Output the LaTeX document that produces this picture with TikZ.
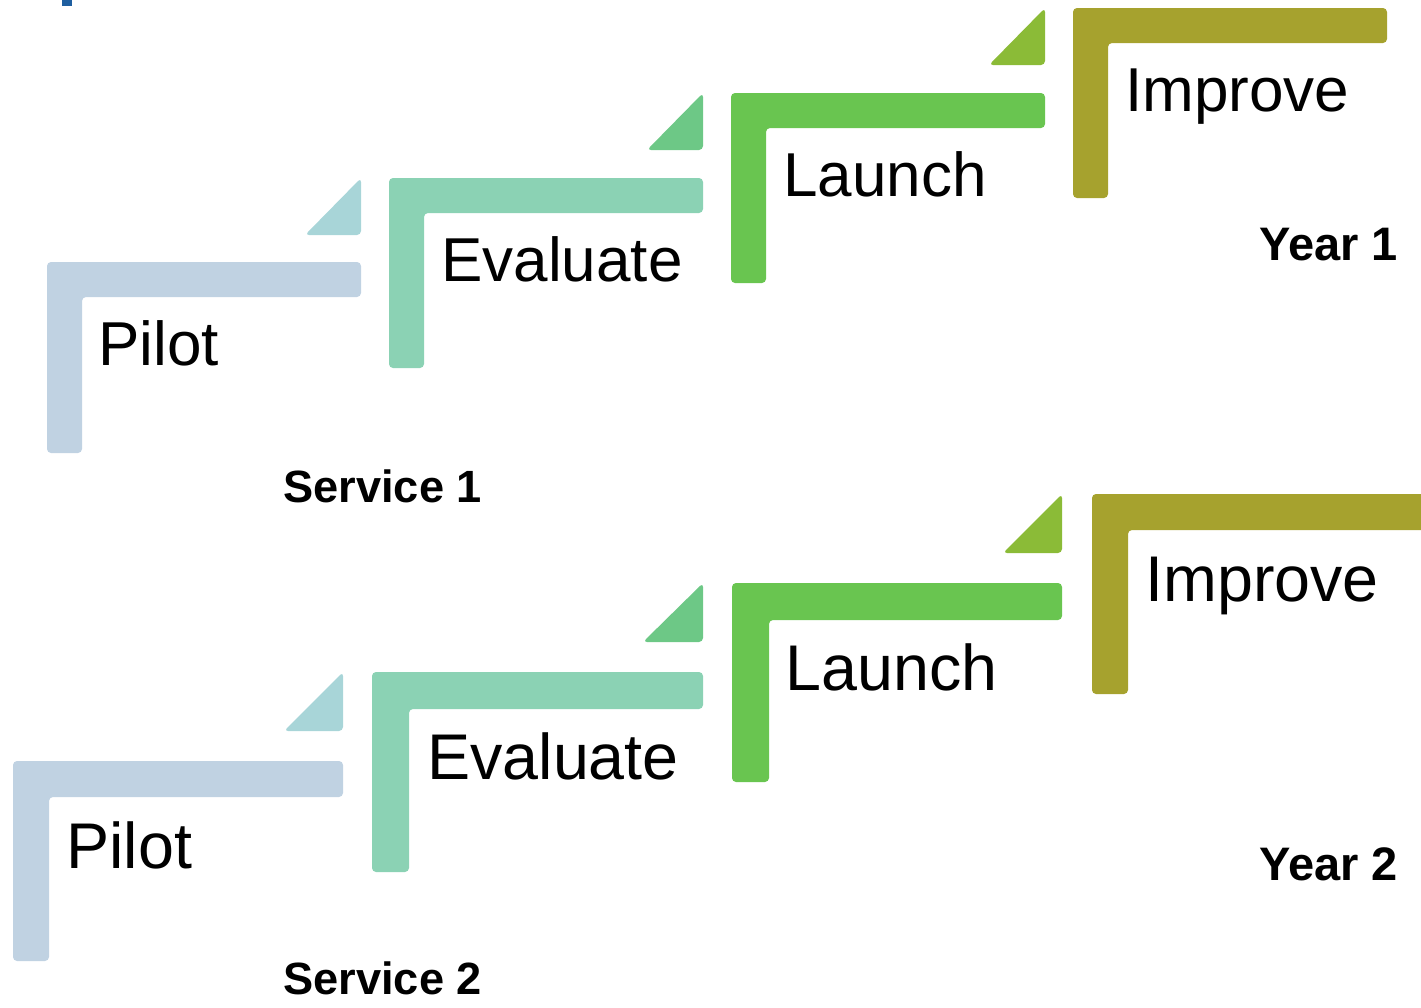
\documentclass[tikz,border=0pt]{standalone}
\usepackage{fontspec}
\setmainfont{Liberation Sans}
\definecolor{cPilot}{HTML}{C0D2E2}
\definecolor{cTriA}{HTML}{A8D5D8}
\definecolor{cEval}{HTML}{8BD2B4}
\definecolor{cTriB}{HTML}{6DC886}
\definecolor{cLaunch}{HTML}{69C550}
\definecolor{cTriC}{HTML}{8BBB37}
\definecolor{cImprove}{HTML}{A6A22E}
\definecolor{cMark}{HTML}{1F5FA0}
\tikzset{
  shapefill/.style={fill=#1, draw=none, rounded corners=2},
  biglabA/.style={anchor=base west, inner sep=0, font=\fontsize{31}{36}\selectfont},
  biglabB/.style={anchor=base west, inner sep=0, font=\fontsize{32.3}{38}\selectfont},
  servlab/.style={anchor=base west, inner sep=0, font=\bfseries\fontsize{22.6}{26}\selectfont},
  yearlab/.style={anchor=base west, inner sep=0, font=\bfseries\fontsize{23.5}{28}\selectfont},
}
% L shape: x0,y0 (top-left), width, height, thickness, colour
\newcommand{\Lshape}[6]{%
  \fill[shapefill=#6] (#1,#2) -- ++(#3,0) -- ++(0,#5) -- (#1+#5,#2+#5) -- (#1+#5,#2+#4) -- (#1,#2+#4) -- cycle;}
% triangle: left x, right x, top y, bottom y
\newcommand{\Tri}[5]{%
  \fill[shapefill=#5] (#1,#4) -- (#2,#4) -- (#2,#3) -- cycle;}
\begin{document}
\begin{tikzpicture}[x=0.5pt,y=-0.5pt]
\useasboundingbox (0,0) rectangle (1421,1008);
\fill[cMark] (62,0) rectangle (72,6);
% Row 1
\Lshape{47}{262}{314}{191}{35}{cPilot}
\Tri{305}{361}{178}{235}{cTriA}
\Lshape{389}{178}{314}{190}{35}{cEval}
\Tri{647}{703}{93}{150}{cTriB}
\Lshape{731}{93}{314}{190}{35}{cLaunch}
\Tri{989}{1045}{8}{65}{cTriC}
\Lshape{1073}{8}{314}{190}{35}{cImprove}
\node[biglabA] (pilotA) at (98,365) {Pilot};
\node[biglabA] (evalA) at (441,281) {Evaluate};
\node[biglabA] (launchA) at (783,196) {Launch};
\node[biglabA] (improveA) at (1125,111) {Improve};
\node[servlab] (service1) at (283,502) {Service 1};
\node[yearlab] (year1) at (1259,260) {Year 1};
% Row 2
\Lshape{13}{761}{330}{200}{36}{cPilot}
\Tri{284}{343}{672}{731}{cTriA}
\Lshape{372}{672}{331}{200}{37}{cEval}
\Tri{643}{703}{583}{642}{cTriB}
\Lshape{732}{583}{330}{199}{37}{cLaunch}
\Tri{1003}{1062}{494}{553}{cTriC}
\Lshape{1092}{494}{335}{200}{36}{cImprove}
\node[biglabB] (pilotB) at (66,868) {Pilot};
\node[biglabB] (evalB) at (427,779) {Evaluate};
\node[biglabB] (launchB) at (785,690) {Launch};
\node[biglabB] (improveB) at (1145,601) {Improve};
\node[servlab] (service2) at (283,994) {Service 2};
\node[yearlab] (year2) at (1259,880) {Year 2};
\end{tikzpicture}
\end{document}
